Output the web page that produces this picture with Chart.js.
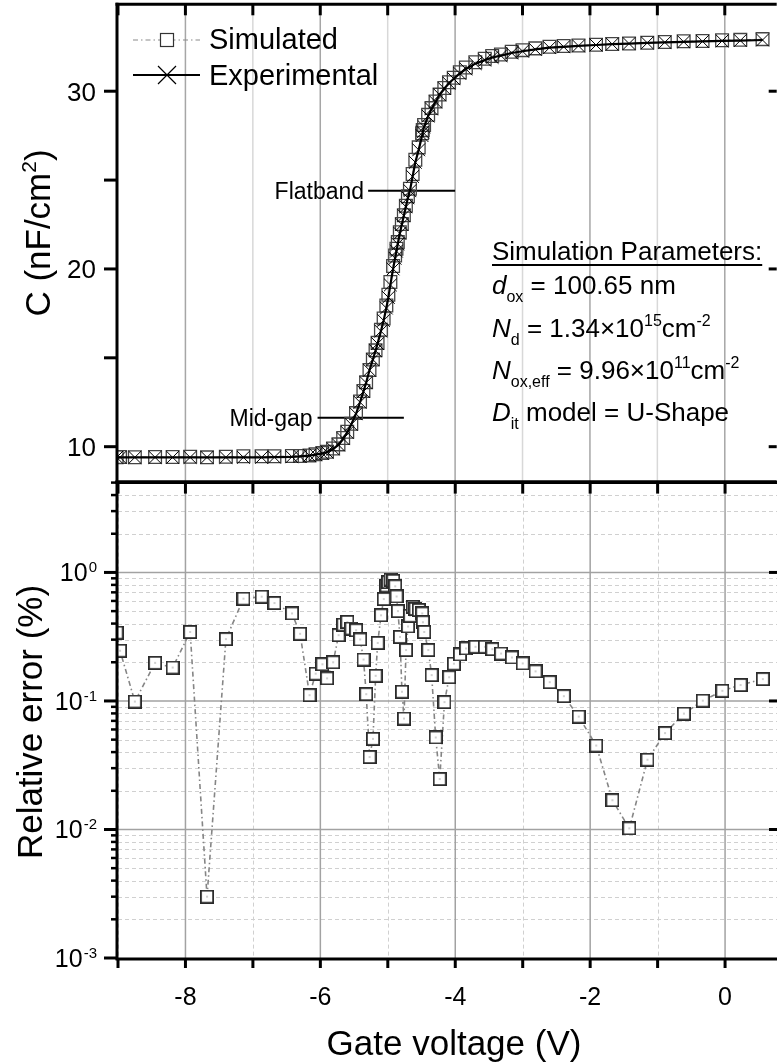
<!DOCTYPE html>
<html>
<head>
<meta charset="utf-8">
<script src="https://cdn.jsdelivr.net/npm/chart.js@4.4.0/dist/chart.umd.min.js"></script>
<style>
  body { margin: 0; background: #fff; }
  #wrap { position: relative; width: 777px; height: 1064px; overflow: hidden; background: #fff; }
  canvas { position: absolute; left: 0; }
  #cvChart { top: -6px; }
  #errChart { top: 474px; }
</style>
</head>
<body>
<div id="wrap">
  <canvas id="cvChart" width="787" height="498" style="width:787px;height:498px"></canvas>
  <canvas id="errChart" width="787" height="590" style="width:787px;height:590px"></canvas>
</div>
<script>
// gate voltage sweep (V), shared by both panels
const gateVoltage = [-9.02, -8.97, -8.75, -8.45, -8.19, -7.93, -7.68, -7.40, -7.14, -6.87,
  -6.68, -6.42, -6.30, -6.16, -6.07, -5.97, -5.90, -5.81, -5.73, -5.66,
  -5.60, -5.54, -5.47, -5.41, -5.36, -5.32, -5.27, -5.22, -5.18, -5.15,
  -5.10, -5.06, -5.02, -4.99, -4.96, -4.92, -4.89, -4.87, -4.85, -4.82,
  -4.79, -4.76, -4.73, -4.70, -4.67, -4.63, -4.59, -4.54, -4.49, -4.48,
  -4.46, -4.40, -4.35, -4.29, -4.23, -4.16, -4.09, -4.02, -3.93, -3.84,
  -3.70, -3.56, -3.45, -3.32, -3.16, -3.00, -2.81, -2.60, -2.39, -2.17,
  -1.91, -1.67, -1.42, -1.15, -0.89, -0.61, -0.33, -0.04, 0.23, 0.56];

// capacitance (nF/cm2)
const capExperimental = [9.40, 9.40, 9.40, 9.40, 9.40, 9.40, 9.40, 9.40, 9.40, 9.40,
  9.41, 9.43, 9.45, 9.50, 9.55, 9.62, 9.70, 9.88, 10.1, 10.45,
  10.8, 11.25, 11.85, 12.5, 13.1, 13.6, 14.3, 14.9, 15.4, 15.8,
  16.5, 17.1, 17.8, 18.4, 19.1, 20.0, 20.6, 21.0, 21.4, 22.0,
  22.5, 23.0, 23.5, 24.0, 24.4, 25.2, 26.0, 26.7, 27.5, 27.7,
  28.0, 28.6, 29.0, 29.4, 29.8, 30.15, 30.45, 30.7, 31.0, 31.25,
  31.55, 31.75, 31.9, 32.0, 32.15, 32.25, 32.35, 32.45, 32.5, 32.55,
  32.6, 32.65, 32.68, 32.72, 32.75, 32.78, 32.8, 32.83, 32.85, 32.88];

const capSimulated = [9.41, 9.42, 9.41, 9.42, 9.42, 9.43, 9.40, 9.43, 9.46, 9.46,
  9.46, 9.48, 9.48, 9.51, 9.57, 9.64, 9.71, 9.90, 10.13, 10.49,
  10.84, 11.29, 11.89, 12.54, 13.13, 13.62, 14.31, 14.91, 15.42, 15.84,
  16.58, 17.21, 17.94, 18.55, 19.27, 20.17, 20.76, 21.14, 21.51, 22.07,
  22.53, 23.02, 23.56, 24.09, 24.51, 25.34, 26.14, 26.84, 27.63, 27.81,
  28.10, 28.67, 29.05, 29.42, 29.81, 30.18, 30.50, 30.76, 31.07, 31.33,
  31.63, 31.83, 31.98, 32.07, 32.22, 32.31, 32.41, 32.50, 32.54, 32.57,
  32.61, 32.66, 32.68, 32.73, 32.77, 32.81, 32.83, 32.87, 32.89, 32.93];

// relative error between simulation and measurement (%)
const relErr = [0.34, 0.246, 0.099, 0.198, 0.182, 0.344, 0.0030, 0.303, 0.625, 0.648,
  0.578, 0.48, 0.333, 0.111, 0.163, 0.193, 0.150, 0.200, 0.325, 0.393,
  0.412, 0.366, 0.355, 0.301, 0.210, 0.113, 0.0366, 0.0507, 0.157, 0.283,
  0.464, 0.621, 0.79, 0.84, 0.88, 0.86, 0.78, 0.65, 0.50, 0.315,
  0.118, 0.073, 0.249, 0.38, 0.46, 0.54, 0.52, 0.51, 0.48, 0.41,
  0.344, 0.249, 0.159, 0.052, 0.0247, 0.098, 0.153, 0.195, 0.230, 0.256,
  0.264, 0.264, 0.253, 0.234, 0.218, 0.196, 0.170, 0.140, 0.109, 0.0756,
  0.0450, 0.0169, 0.0102, 0.0349, 0.0562, 0.0797, 0.1005, 0.120, 0.133, 0.148];

// marker lines for flatband and mid-gap capacitance
const flatbandV = [-5.29, -4.0];
const flatbandC = 24.4;
const midgapV = [-6.04, -4.76];
const midgapC = 11.63;

// axes
const voltTicks = [-9, -8, -7, -6, -5, -4, -3, -2, -1, 0];
const voltLabels = [-8, -6, -4, -2, 0];
const capTicks = [10, 15, 20, 25, 30];
const capLabels = [10, 20, 30];
const errDecades = [0.001, 0.01, 0.1, 1];

const FONT = "'Liberation Sans', Arial, Helvetica, sans-serif";
const CV_TOP = -6;   // page offset of the upper canvas
const ERR_TOP = 474; // page offset of the lower canvas

function setFont(ctx, size, italic) {
  ctx.font = (italic ? 'italic ' : '') + size + 'px ' + FONT;
}

// draws a run of text pieces (sub/superscripts), returns end x
function drawRich(ctx, x, y, parts) {
  parts.forEach(p => {
    setFont(ctx, p.s, p.i);
    ctx.fillText(p.t, x, y + (p.dy || 0));
    x += ctx.measureText(p.t).width;
  });
  return x;
}

function richWidth(ctx, parts) {
  let w = 0;
  parts.forEach(p => { setFont(ctx, p.s, p.i); w += ctx.measureText(p.t).width; });
  return w;
}

function hLine(ctx, x1, x2, y) {
  ctx.beginPath(); ctx.moveTo(x1, y); ctx.lineTo(x2, y); ctx.stroke();
}
function vLine(ctx, x, y1, y2) {
  ctx.beginPath(); ctx.moveTo(x, y1); ctx.lineTo(x, y2); ctx.stroke();
}

// square marker with a centre dot for the error plot
const boxMarker = document.createElement('canvas');
boxMarker.width = 14; boxMarker.height = 14;
(function () {
  const c = boxMarker.getContext('2d');
  c.fillStyle = '#fff';
  c.fillRect(0, 0, 14, 14);
  c.strokeStyle = '#2a2a2a';
  c.lineWidth = 1.8;
  c.strokeRect(0.9, 0.9, 12.2, 12.2);
  c.fillStyle = '#444';
  c.fillRect(6.5, 6.5, 1, 1);
})();

const simDash = [5, 3, 1.5, 3];

const cvFrame = {
  id: 'cvFrame',
  beforeDatasetsDraw(chart) {
    const { ctx, chartArea: a, scales: { x } } = chart;
    ctx.save();
    ctx.lineWidth = 1.5;
    voltTicks.forEach(v => {
      if (v === -9) return;
      const px = x.getPixelForValue(v);
      ctx.strokeStyle = Math.abs(v) % 2 === 0 ? '#a6a6a6' : '#d8d8d8';
      vLine(ctx, px, a.top, a.bottom);
    });
    ctx.restore();
  },
  afterDraw(chart) {
    const { ctx, chartArea, scales: { x, y } } = chart;
    // work in page coordinates
    const a = { left: chartArea.left, right: chartArea.right, top: chartArea.top + CV_TOP, bottom: chartArea.bottom + CV_TOP };
    const Y = v => y.getPixelForValue(v) + CV_TOP;
    ctx.save();
    ctx.translate(0, -CV_TOP);
    ctx.strokeStyle = '#000';
    ctx.fillStyle = '#000';

    // frame
    ctx.lineWidth = 3;
    vLine(ctx, a.left - 1, a.top - 1.5, a.bottom + 1.5);
    hLine(ctx, a.left - 2.5, a.right, a.top);
    hLine(ctx, a.left - 2.5, a.right, a.bottom);

    // ticks
    voltTicks.forEach(v => {
      vLine(ctx, x.getPixelForValue(v), a.top, a.top + 11);
    });
    capTicks.forEach(v => {
      hLine(ctx, a.left - 14, a.left, Y(v));
    });
    capLabels.forEach(v => {
      hLine(ctx, a.right - 8, a.right, Y(v));
    });

    // tick labels
    setFont(ctx, 26);
    ctx.textAlign = 'right';
    ctx.textBaseline = 'alphabetic';
    capLabels.forEach(v => {
      ctx.fillText(String(v), 96, Y(v) + 9.5);
    });

    // y title
    ctx.save();
    ctx.translate(38, 233);
    ctx.rotate(-Math.PI / 2);
    ctx.textAlign = 'left';
    const title = [
      { t: 'C (nF/cm', s: 35 },
      { t: '2', s: 21, dy: -14 },
      { t: ')', s: 35 }
    ];
    drawRich(ctx, -richWidth(ctx, title) / 2, 12, title);
    ctx.restore();

    // legend
    ctx.textAlign = 'left';
    ctx.lineWidth = 1.2;
    ctx.strokeStyle = '#8a8a8a';
    ctx.setLineDash(simDash);
    hLine(ctx, 133, 200, 40);
    ctx.setLineDash([]);
    ctx.fillStyle = '#fff';
    ctx.fillRect(160.5, 33.5, 13, 13);
    ctx.strokeStyle = '#333';
    ctx.strokeRect(160.5, 33.5, 13, 13);
    ctx.fillStyle = '#000';
    setFont(ctx, 29);
    ctx.fillText('Simulated', 209, 49);

    ctx.strokeStyle = '#000';
    ctx.lineWidth = 2.2;
    hLine(ctx, 133, 200, 75);
    ctx.lineWidth = 1.2;
    ctx.beginPath();
    ctx.moveTo(158, 66); ctx.lineTo(176, 84);
    ctx.moveTo(176, 66); ctx.lineTo(158, 84);
    ctx.stroke();
    ctx.fillText('Experimental', 209, 85);

    // marker line captions
    setFont(ctx, 23);
    ctx.textAlign = 'right';
    ctx.fillText('Flatband', x.getPixelForValue(flatbandV[0]) - 4, Y(flatbandC) + 8);
    ctx.fillText('Mid-gap', x.getPixelForValue(midgapV[0]) - 5, Y(midgapC) + 8);

    // parameter box
    ctx.textAlign = 'left';
    const px0 = 492;
    setFont(ctx, 26);
    ctx.fillText('Simulation Parameters:', px0, 260);
    const uw = ctx.measureText('Simulation Parameters:').width;
    ctx.lineWidth = 2;
    hLine(ctx, px0, px0 + uw, 265);
    drawRich(ctx, px0, 294, [
      { t: 'd', s: 26, i: true }, { t: 'ox', s: 16, dy: 8 }, { t: ' = 100.65 nm', s: 26 }
    ]);
    drawRich(ctx, px0, 337, [
      { t: 'N', s: 26, i: true }, { t: 'd', s: 16, dy: 8 }, { t: ' = 1.34\u00d710', s: 26 },
      { t: '15', s: 16, dy: -11 }, { t: 'cm', s: 26 }, { t: '-2', s: 16, dy: -11 }
    ]);
    drawRich(ctx, px0, 379, [
      { t: 'N', s: 26, i: true }, { t: 'ox,eff', s: 16, dy: 8 }, { t: ' = 9.96\u00d710', s: 26 },
      { t: '11', s: 16, dy: -11 }, { t: 'cm', s: 26 }, { t: '-2', s: 16, dy: -11 }
    ]);
    drawRich(ctx, px0, 421, [
      { t: 'D', s: 26, i: true }, { t: 'it', s: 16, dy: 8 }, { t: ' model = U-Shape', s: 26 }
    ]);
    ctx.restore();
  }
};

const errFrame = {
  id: 'errFrame',
  beforeDatasetsDraw(chart) {
    const { ctx, chartArea: a, scales: { x, y } } = chart;
    ctx.save();
    // minor decade lines
    ctx.strokeStyle = '#d0d0d0';
    ctx.lineWidth = 1;
    ctx.setLineDash([4, 3]);
    errDecades.forEach(d => {
      for (let k = 2; k <= 9; k++) {
        const v = d * k;
        if (v >= 5) break;
        hLine(ctx, a.left, a.right, Math.round(y.getPixelForValue(v)) + 0.5);
      }
    });
    voltTicks.forEach(v => {
      if (Math.abs(v) % 2 === 1) vLine(ctx, Math.round(x.getPixelForValue(v)) + 0.5, a.top, a.bottom);
    });
    ctx.setLineDash([]);
    ctx.strokeStyle = '#a2a2a2';
    ctx.lineWidth = 1.5;
    errDecades.forEach(d => {
      if (d > 0.001) hLine(ctx, a.left, a.right, y.getPixelForValue(d));
    });
    voltTicks.forEach(v => {
      if (v !== -9 && Math.abs(v) % 2 === 0) vLine(ctx, x.getPixelForValue(v), a.top, a.bottom);
    });
    ctx.restore();
  },
  afterDraw(chart) {
    const { ctx, chartArea, scales: { x, y } } = chart;
    const a = { left: chartArea.left, right: chartArea.right, top: chartArea.top + ERR_TOP, bottom: chartArea.bottom + ERR_TOP };
    const Y = v => y.getPixelForValue(v) + ERR_TOP;
    ctx.save();
    ctx.translate(0, -ERR_TOP);
    ctx.strokeStyle = '#000';
    ctx.fillStyle = '#000';
    ctx.lineWidth = 3;
    vLine(ctx, a.left - 1, a.top - 1.5, a.bottom + 1.5);
    hLine(ctx, a.left - 2.5, a.right, a.top);
    hLine(ctx, a.left - 2.5, a.right, a.bottom + 1);

    voltTicks.forEach(v => {
      const px = x.getPixelForValue(v);
      vLine(ctx, px, a.top, a.top + 11);
      vLine(ctx, px, a.bottom, a.bottom + 10);
    });
    errDecades.forEach(d => {
      ctx.lineWidth = 3;
      hLine(ctx, a.left - 14, a.left, Y(d));
      if (d > 0.001) hLine(ctx, a.right - 8, a.right, Y(d));
      ctx.lineWidth = 2.5;
      for (let k = 2; k <= 9; k++) {
        const v = d * k;
        if (v > 5) break;
        hLine(ctx, a.left - 7, a.left, Y(v));
      }
    });

    // log tick labels 10^n
    ctx.textAlign = 'left';
    errDecades.forEach(d => {
      const py = Y(d);
      const sup = String(Math.round(Math.log10(d)));
      setFont(ctx, 15);
      const sw = ctx.measureText(sup).width;
      setFont(ctx, 25);
      const tw = ctx.measureText('10').width;
      const x0 = 97 - sw - tw - 1;
      ctx.fillText('10', x0, py + 9);
      setFont(ctx, 15);
      ctx.fillText(sup, x0 + tw + 1, py);
    });

    setFont(ctx, 25);
    ctx.textAlign = 'center';
    voltLabels.forEach(v => {
      ctx.fillText(String(v), x.getPixelForValue(v), 1005);
    });

    setFont(ctx, 35);
    ctx.fillText('Gate voltage (V)', 454, 1055);

    ctx.save();
    ctx.translate(30, 722);
    ctx.rotate(-Math.PI / 2);
    ctx.fillText('Relative error (%)', 0, 12);
    ctx.restore();
    ctx.restore();
  }
};

new Chart(document.getElementById('cvChart'), {
  type: 'line',
  data: {
    datasets: [
      {
        label: 'Flatband',
        data: flatbandV.map(v => ({ x: v, y: flatbandC })),
        borderColor: '#000', borderWidth: 2, pointRadius: 0, order: 4
      },
      {
        label: 'Mid-gap',
        data: midgapV.map(v => ({ x: v, y: midgapC })),
        borderColor: '#000', borderWidth: 2, pointRadius: 0, order: 3
      },
      {
        label: 'Simulated',
        data: gateVoltage.map((v, i) => ({ x: v, y: capSimulated[i] })),
        borderColor: '#8a8a8a', borderWidth: 1, borderDash: simDash,
        pointStyle: 'rect', pointRadius: 9, pointHoverRadius: 9, pointBorderColor: '#444',
        pointBorderWidth: 1.3, pointBackgroundColor: 'rgba(0,0,0,0)',
        clip: 0, order: 2
      },
      {
        label: 'Experimental',
        data: gateVoltage.map((v, i) => ({ x: v, y: capExperimental[i] })),
        borderColor: '#000', borderWidth: 2.2,
        pointStyle: 'crossRot', pointRadius: 9, pointHoverRadius: 9, pointBorderColor: '#000',
        pointBorderWidth: 1, clip: 0, order: 1
      }
    ]
  },
  options: {
    responsive: false,
    animation: false,
    devicePixelRatio: 1,
    events: [],
    // chart area: x 118..777, page y 4..482
    layout: { padding: { left: 118, top: 10, right: 10, bottom: 10 } },
    elements: { line: { tension: 0 } },
    scales: {
      x: { type: 'linear', min: -9, max: 0.77, display: false },
      y: { type: 'linear', min: 8.03, max: 34.89, display: false }
    },
    plugins: { legend: { display: false }, tooltip: { enabled: false } }
  },
  plugins: [cvFrame]
});

new Chart(document.getElementById('errChart'), {
  type: 'line',
  data: {
    datasets: [
      {
        label: 'Relative error',
        data: gateVoltage.map((v, i) => ({ x: v, y: relErr[i] })),
        borderColor: '#858585', borderWidth: 1.6, borderDash: simDash,
        pointStyle: boxMarker, pointRadius: 7, pointHoverRadius: 7, clip: 0
      }
    ]
  },
  options: {
    responsive: false,
    animation: false,
    devicePixelRatio: 1,
    events: [],
    // chart area: x 118..777, page y 482..958
    layout: { padding: { left: 118, top: 8, right: 10, bottom: 106 } },
    elements: { line: { tension: 0 } },
    scales: {
      x: { type: 'linear', min: -9, max: 0.77, display: false },
      y: { type: 'logarithmic', min: 0.001, max: 5, display: false }
    },
    plugins: { legend: { display: false }, tooltip: { enabled: false } }
  },
  plugins: [errFrame]
});
</script>
</body>
</html>
